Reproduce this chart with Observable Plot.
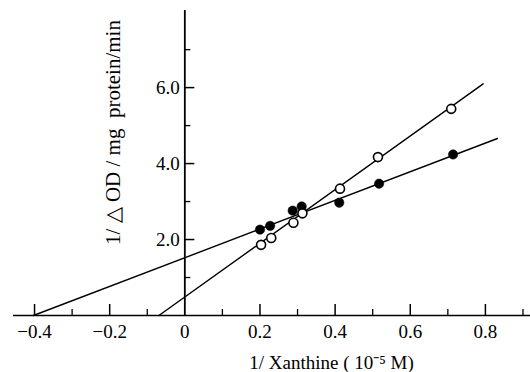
<!DOCTYPE html>
<html><head><meta charset="utf-8">
<script src="https://cdn.jsdelivr.net/npm/d3@7"></script>
<script src="https://cdn.jsdelivr.net/npm/@observablehq/plot@0.6"></script>
<style>html,body{margin:0;padding:0;background:#fff}</style>
</head><body><div id="chart"></div>
<script>
// Data
const filledX = [0.200, 0.227, 0.287, 0.311, 0.411, 0.517, 0.714];
const filledY = [2.26, 2.36, 2.76, 2.87, 2.97, 3.47, 4.24];
const openX = [0.203, 0.230, 0.289, 0.313, 0.413, 0.514, 0.709];
const openY = [1.86, 2.04, 2.44, 2.69, 3.34, 4.17, 5.44];
// Fitted (Lineweaver-Burk) lines: endpoints as drawn
const filledLineX = [-0.403, 0.832];
const filledLineY = [0, 4.66];
const openLineX = [-0.069, 0.794];
const openLineY = [0, 6.10];
// Ticks
const xMajorTicks = [-0.4, -0.2, 0.2, 0.4, 0.6, 0.8];
const xMinorTicks = [-0.3, -0.1, 0.1, 0.3, 0.5, 0.7, 0.9];
const xLabelValues = [-0.4, -0.2, 0, 0.2, 0.4, 0.6, 0.8];
const xTickLabels = ["−0.4", "−0.2", "0", "0.2", "0.4", "0.6", "0.8"];
const yMajorTicks = [2, 4, 6];
const yMinorTicks = [1, 3, 5, 7];
const yTickLabels = ["2.0", "4.0", "6.0"];
const xTitle = "1/ Xanthine ( 10⁻⁵ M)";
const yTitle = "1/ △ OD / mg  protein/min";

const W = 530, H = 372;
const mL = 13, mR = 0, mT = 10, mB = 57;
const xDomain = [-0.456, 0.92];
const yDomain = [0, 8.03];
const xs = Plot.scale({x: {domain: xDomain, range: [mL, W - mR]}});
const ys = Plot.scale({y: {domain: yDomain, range: [H - mB, mT]}});
const up = (px) => ys.invert(ys.apply(0) - px);
const right = (px) => xs.invert(xs.apply(0) + px);

const filled = filledX.map((x, i) => ({x, y: filledY[i]}));
const open = openX.map((x, i) => ({x, y: openY[i]}));
const fLine = filledLineX.map((x, i) => ({x, y: filledLineY[i]}));
const oLine = openLineX.map((x, i) => ({x, y: openLineY[i]}));
const xLabs = xLabelValues.map((v, i) => ({v, t: xTickLabels[i]}));
const yLabs = yMajorTicks.map((v, i) => ({v, t: yTickLabels[i]}));

const font = "Liberation Serif, Times New Roman, serif";

const chart = Plot.plot({
  width: W, height: H,
  marginLeft: mL, marginRight: mR, marginTop: mT, marginBottom: mB,
  x: {domain: xDomain, axis: null},
  y: {domain: yDomain, axis: null},
  style: {background: "#fff", fontFamily: font, color: "#000", overflow: "visible"},
  marks: [
    // axes
    Plot.ruleY([0], {x1: xDomain[0], x2: xDomain[1], stroke: "#000", strokeWidth: 1.6}),
    Plot.ruleX([0], {y1: 0, y2: yDomain[1], stroke: "#000", strokeWidth: 1.8}),
    // x ticks (pointing up)
    Plot.ruleX(xMajorTicks, {x: d => d, y1: 0, y2: up(11), stroke: "#000", strokeWidth: 1.5}),
    Plot.ruleX(xMinorTicks, {x: d => d, y1: 0, y2: up(6), stroke: "#000", strokeWidth: 1.3}),
    // y ticks (pointing right)
    Plot.ruleY(yMajorTicks, {y: d => d, x1: 0, x2: right(10), stroke: "#000", strokeWidth: 1.5}),
    Plot.ruleY(yMinorTicks, {y: d => d, x1: 0, x2: right(6), stroke: "#000", strokeWidth: 1.3}),
    // tick labels
    Plot.text(xLabs, {x: "v", y: 0, text: "t", dy: 16, fontSize: 19, fontFamily: font, fill: "#000", letterSpacing: "1.5px"}),
    Plot.text(yLabs, {x: 0, y: "v", text: "t", dx: -5, textAnchor: "end", fontSize: 19, fontFamily: font, fill: "#000", letterSpacing: "1px"}),
    // titles
    Plot.text([xTitle], {x: () => xs.invert(331), y: () => ys.invert(362), text: d => d, fontSize: 19, fontFamily: font, fill: "#000"}),
    Plot.text([yTitle], {x: () => xs.invert(113), y: () => ys.invert(132), text: d => d, rotate: -90, fontSize: 21, fontFamily: font, fill: "#000"}),
    // fitted lines
    Plot.line(fLine, {x: "x", y: "y", stroke: "#000", strokeWidth: 1.4}),
    Plot.line(oLine, {x: "x", y: "y", stroke: "#000", strokeWidth: 1.4}),
    // points
    Plot.dot(filled, {x: "x", y: "y", r: 4.7, fill: "#000", stroke: "#000", strokeWidth: 0.5}),
    Plot.dot(open, {x: "x", y: "y", r: 4.5, fill: "#fff", stroke: "#000", strokeWidth: 1.6})
  ]
});
document.getElementById("chart").appendChild(chart);
</script>
</body></html>
